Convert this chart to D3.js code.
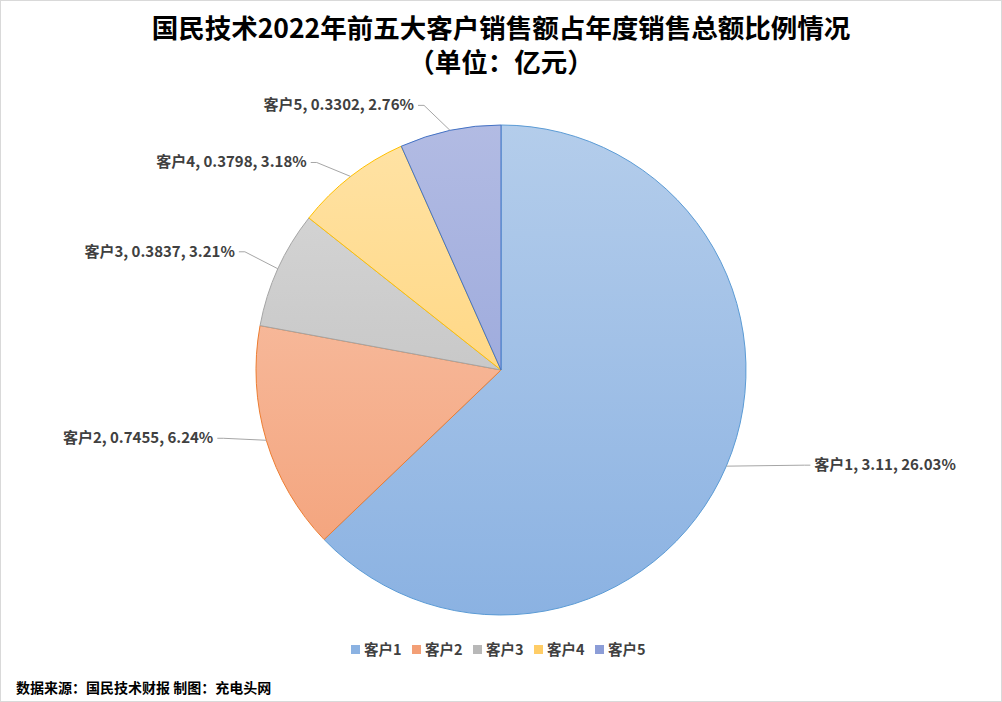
<!DOCTYPE html>
<html><head><meta charset="utf-8">
<script src="https://cdn.jsdelivr.net/npm/d3@7"></script>
<style>body{margin:0;background:#fff}svg{font-family:"Noto Sans CJK SC","Liberation Sans",sans-serif}</style>
</head><body><svg id="c" width="1002" height="702"></svg>
<script>
const categories = ["客户1", "客户2", "客户3", "客户4", "客户5"];
const values = [3.11, 0.7455, 0.3837, 0.3798, 0.3302];
const shares = ["26.03%", "6.24%", "3.21%", "3.18%", "2.76%"];
const colorsTop = ["#b4cdeb", "#f9c8b0", "#d9d9d9", "#ffe3a6", "#b2bbe3"];
const colorsBottom = ["#8bb2e2", "#f39f76", "#b8b8b8", "#ffcd66", "#8c9dd7"];
const strokes = ["#5b9bd5", "#ed7d31", "#a5a5a5", "#ffc000", "#4472c4"];
// label offsets (layout): [endX offset from arc point, endY offset]
const labelOff = [[84, -1], [-49, -2], [-39, -17], [-40, -14], [-32, -25]];

const svg = d3.select("#c");
svg.append("rect").attr("x", 0.5).attr("y", 0.5).attr("width", 1001).attr("height", 701)
  .attr("fill", "#fff").attr("stroke", "#d9d9d9");

const data = categories.map((c, i) => ({ c, v: values[i], s: shares[i], i }));
const cx = 501, cy = 370, r = 245;
const defs = svg.append("defs");
data.forEach((d) => {
  const g = defs.append("linearGradient").attr("id", "g" + d.i)
    .attr("gradientUnits", "userSpaceOnUse").attr("x1", 0).attr("y1", -r).attr("x2", 0).attr("y2", r);
  g.append("stop").attr("offset", "0").attr("stop-color", colorsTop[d.i]);
  g.append("stop").attr("offset", "1").attr("stop-color", colorsBottom[d.i]);
});

const pie = d3.pie().sort(null).value((d) => d.v);
const arc = d3.arc().innerRadius(0).outerRadius(r);
const arcs = pie(data);
const chart = svg.append("g").attr("transform", `translate(${cx},${cy})`);
chart.selectAll("path").data(arcs).join("path")
  .attr("d", arc)
  .attr("fill", (d) => `url(#g${d.data.i})`)
  .attr("stroke", (d) => strokes[d.data.i]).attr("stroke-width", 1);

arcs.forEach((a) => {
  const mid = (a.startAngle + a.endAngle) / 2;
  const px = cx + r * Math.sin(mid), py = cy - r * Math.cos(mid);
  const [dx, dy] = labelOff[a.data.i];
  const ex = px + dx, ey = py + dy;
  const right = dx > 0;
  svg.append("polyline")
    .attr("points", `${px},${py} ${ex - (right ? 6 : -6)},${ey} ${ex},${ey}`)
    .attr("fill", "none").attr("stroke", "#a6a6a6");
  svg.append("text").attr("x", right ? ex + 4 : ex - 4).attr("y", ey + 5)
    .attr("text-anchor", right ? "start" : "end")
    .attr("font-size", 15).attr("font-weight", "bold").attr("fill", "#404040")
    .text(`${a.data.c}, ${a.data.v}, ${a.data.s}`);
});

svg.append("text").attr("x", 501).attr("y", 38).attr("text-anchor", "middle")
  .attr("font-size", 26.5).attr("font-weight", "bold").attr("fill", "#000")
  .text("国民技术2022年前五大客户销售额占年度销售总额比例情况");
svg.append("text").attr("x", 501).attr("y", 72).attr("text-anchor", "middle")
  .attr("font-size", 26.5).attr("font-weight", "bold").attr("fill", "#000")
  .text("（单位：亿元）");

// legend
const legend = svg.append("g");
let lx = 351;
categories.forEach((c, i) => {
  legend.append("rect").attr("x", lx).attr("y", 645).attr("width", 9).attr("height", 9)
    .attr("fill", colorsBottom[i]);
  legend.append("text").attr("x", lx + 13).attr("y", 655).attr("font-size", 14.5)
    .attr("font-weight", "bold").attr("fill", "#404040").text(c);
  lx += 61;
});

svg.append("text").attr("x", 16).attr("y", 693).attr("font-size", 14)
  .attr("font-weight", "bold").attr("fill", "#000")
  .text("数据来源：国民技术财报  制图：充电头网");
</script></body></html>
